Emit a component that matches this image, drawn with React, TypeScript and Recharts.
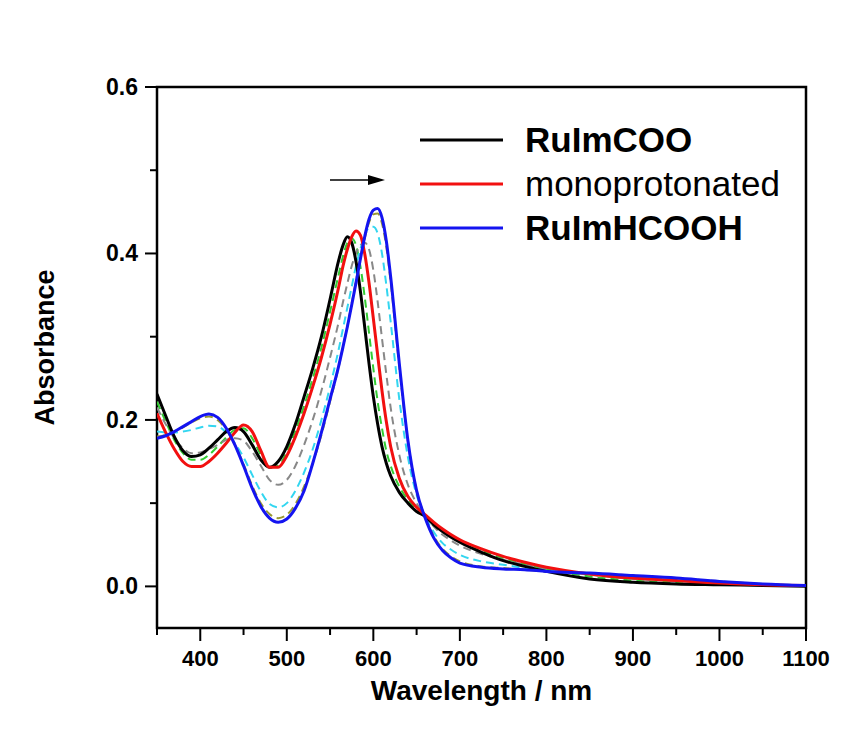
import React from "react"
import { LineChart, Line, XAxis, YAxis, ReferenceArea, Legend } from "recharts"

const FONT = "'Liberation Sans', Arial, sans-serif"

// wavelength grid (nm)
const wavelengths = [
  350, 360, 370, 380, 390, 400, 410, 420, 430, 440, 450, 460, 470, 480, 490, 500, 510, 520, 530, 540,
  550, 560, 565, 570, 575, 580, 585, 590, 595, 600, 605, 610, 615, 620, 630, 640, 650, 660, 670, 680,
  690, 700, 725, 750, 775, 800, 850, 900, 950, 1000, 1050, 1100,
]

// absorbance
const ruImCOO = [
  0.231, 0.205, 0.18, 0.163, 0.156, 0.158, 0.166, 0.176, 0.186, 0.191, 0.186, 0.17, 0.152, 0.143, 0.15, 0.168, 0.195, 0.228, 0.262, 0.3,
  0.345, 0.392, 0.41, 0.42, 0.413, 0.39, 0.355, 0.312, 0.268, 0.228, 0.195, 0.168, 0.148, 0.133, 0.113, 0.1, 0.09, 0.084, 0.074, 0.066,
  0.059, 0.053, 0.041, 0.031, 0.024, 0.018, 0.009, 0.005, 0.003, 0.002, 0.001, 0.0,
]
const step1 = [
  0.222, 0.198, 0.176, 0.16, 0.152, 0.152, 0.158, 0.168, 0.179, 0.188, 0.19, 0.178, 0.158, 0.143, 0.145, 0.162, 0.187, 0.217, 0.25, 0.287,
  0.33, 0.375, 0.397, 0.413, 0.418, 0.41, 0.385, 0.348, 0.305, 0.262, 0.222, 0.19, 0.163, 0.145, 0.12, 0.104, 0.093, 0.085, 0.076, 0.068,
  0.061, 0.055, 0.043, 0.034, 0.027, 0.021, 0.012, 0.007, 0.005, 0.003, 0.002, 0.001,
]
const monoprotonated = [
  0.208, 0.185, 0.165, 0.15, 0.144, 0.144, 0.15, 0.16, 0.172, 0.185, 0.194, 0.186, 0.163, 0.143, 0.143, 0.157, 0.18, 0.208, 0.24, 0.275,
  0.315, 0.36, 0.385, 0.405, 0.42, 0.427, 0.422, 0.4, 0.365, 0.322, 0.278, 0.235, 0.198, 0.168, 0.13, 0.108, 0.095, 0.086, 0.077, 0.069,
  0.062, 0.056, 0.045, 0.036, 0.029, 0.023, 0.015, 0.01, 0.007, 0.004, 0.002, 0.001,
]
const step2 = [
  0.215, 0.195, 0.178, 0.166, 0.16, 0.161, 0.165, 0.17, 0.176, 0.178, 0.175, 0.162, 0.145, 0.128, 0.122, 0.128, 0.145, 0.17, 0.2, 0.235,
  0.275, 0.318, 0.342, 0.364, 0.385, 0.4, 0.41, 0.413, 0.405, 0.38, 0.342, 0.298, 0.255, 0.215, 0.158, 0.122, 0.1, 0.085, 0.072, 0.062,
  0.055, 0.049, 0.039, 0.032, 0.026, 0.021, 0.014, 0.009, 0.006, 0.004, 0.002, 0.001,
]
const step3 = [
  0.186, 0.185, 0.185, 0.186, 0.188, 0.191, 0.193, 0.192, 0.185, 0.172, 0.155, 0.134, 0.114, 0.099, 0.095, 0.1, 0.115, 0.137, 0.165, 0.2,
  0.24, 0.285, 0.31, 0.335, 0.36, 0.385, 0.405, 0.422, 0.431, 0.432, 0.424, 0.4, 0.362, 0.318, 0.225, 0.155, 0.11, 0.084, 0.065, 0.052,
  0.044, 0.038, 0.03, 0.026, 0.022, 0.019, 0.015, 0.011, 0.008, 0.005, 0.003, 0.001,
]
const step4 = [
  0.18, 0.182, 0.186, 0.191, 0.197, 0.202, 0.204, 0.2, 0.188, 0.17, 0.147, 0.121, 0.1, 0.087, 0.082, 0.086, 0.099, 0.12, 0.148, 0.182,
  0.222, 0.264, 0.288, 0.313, 0.34, 0.367, 0.394, 0.418, 0.437, 0.447, 0.448, 0.436, 0.408, 0.366, 0.264, 0.174, 0.115, 0.083, 0.06, 0.045,
  0.036, 0.03, 0.024, 0.022, 0.02, 0.018, 0.016, 0.013, 0.01, 0.006, 0.003, 0.001,
]
const ruImHCOOH = [
  0.178, 0.181, 0.186, 0.192, 0.198, 0.204, 0.207, 0.203, 0.19, 0.17, 0.145, 0.118, 0.096, 0.082, 0.077, 0.081, 0.094, 0.115, 0.148, 0.185,
  0.225, 0.265, 0.288, 0.312, 0.338, 0.365, 0.393, 0.42, 0.441, 0.452, 0.454, 0.443, 0.415, 0.372, 0.268, 0.175, 0.115, 0.082, 0.058, 0.043,
  0.034, 0.028, 0.023, 0.021, 0.02, 0.018, 0.016, 0.013, 0.01, 0.006, 0.003, 0.001,
]

const xTicks = [350, 400, 450, 500, 550, 600, 650, 700, 750, 800, 850, 900, 950, 1000, 1050, 1100]
const yTicks = [0, 0.1, 0.2, 0.3, 0.4, 0.5, 0.6]

const data = wavelengths.map((wl, i) => ({
  wl,
  ruImCOO: ruImCOO[i],
  step1: step1[i],
  monoprotonated: monoprotonated[i],
  step2: step2[i],
  step3: step3[i],
  step4: step4[i],
  ruImHCOOH: ruImHCOOH[i],
}))

const legendOrder = ["RuImCOO", "monoprotonated", "RuImHCOOH"]
const boldNames = ["RuImCOO", "RuImHCOOH"]

function XTick({ x, y, payload }: any) {
  const major = payload.value % 100 === 0
  return (
    <g>
      <line x1={x} x2={x} y1={y} y2={y + (major ? 13 : 7)} stroke="#000" strokeWidth={2} />
      {major && (
        <text x={x} y={y + 38} textAnchor="middle" fontFamily={FONT} fontWeight="bold" fontSize={22} fill="#000">
          {payload.value}
        </text>
      )}
    </g>
  )
}

function YTick({ x, y, payload }: any) {
  const major = Math.round(payload.value * 10) % 2 === 0
  return (
    <g>
      <line x1={x} x2={x - (major ? 12 : 7)} y1={y} y2={y} stroke="#000" strokeWidth={2} />
      {major && (
        <text x={x - 19} y={y + 8} textAnchor="end" fontFamily={FONT} fontWeight="bold" fontSize={23} fill="#000">
          {payload.value.toFixed(1)}
        </text>
      )}
    </g>
  )
}

function LegendBox({ payload }: any) {
  const items = (payload || [])
    .filter((p: any) => legendOrder.includes(p.value))
    .sort((a: any, b: any) => legendOrder.indexOf(a.value) - legendOrder.indexOf(b.value))
  return (
    <svg width={858} height={749} style={{ position: "absolute", left: 0, top: 0, pointerEvents: "none" }}>
      <line x1={330} x2={370} y1={180} y2={180} stroke="#000" strokeWidth={1.5} />
      <polygon points="368,175 385,180 368,185" fill="#000" />
      {items.map((item: any, i: number) => {
        const y = 140 + i * 44
        return (
          <g key={item.value}>
            <line x1={420} x2={503} y1={y} y2={y} stroke={item.color} strokeWidth={3} />
            <text
              x={525}
              y={y + 12}
              fontFamily={FONT}
              fontSize={35}
              fontWeight={boldNames.includes(item.value) ? "bold" : "normal"}
              fill="#000"
            >
              {item.value}
            </text>
          </g>
        )
      })}
    </svg>
  )
}

export default function App() {
  return (
    <div style={{ position: "absolute", left: 0, top: 0, width: 858, height: 749, background: "#fff" }}>
      <LineChart width={858} height={749} data={data} margin={{ top: 87, right: 52, left: 0, bottom: 0 }}>
        <XAxis
          dataKey="wl"
          type="number"
          domain={[350, 1100]}
          ticks={xTicks}
          interval={0}
          allowDataOverflow
          height={121}
          axisLine={false}
          tickLine={false}
          tickSize={0}
          tickMargin={0}
          tick={<XTick />}
          label={{
            content: ({ viewBox }: any) => (
              <text
                x={viewBox.x + viewBox.width / 2}
                y={viewBox.y + 72}
                textAnchor="middle"
                fontFamily={FONT}
                fontWeight="bold"
                fontSize={28}
                fill="#000"
              >
                Wavelength / nm
              </text>
            ),
          }}
        />
        <YAxis
          type="number"
          domain={[-0.05, 0.6]}
          ticks={yTicks}
          interval={0}
          allowDataOverflow
          width={157}
          axisLine={false}
          tickLine={false}
          tickSize={0}
          tickMargin={0}
          tick={<YTick />}
          label={{
            content: ({ viewBox }: any) => {
              const cx = 54
              const cy = viewBox.y + viewBox.height / 2 - 10
              return (
                <text
                  x={cx}
                  y={cy}
                  transform={`rotate(-90 ${cx} ${cy})`}
                  textAnchor="middle"
                  fontFamily={FONT}
                  fontWeight="bold"
                  fontSize={27}
                  fill="#000"
                >
                  Absorbance
                </text>
              )
            },
          }}
        />
        <Line dataKey="step1" type="monotone" stroke="#33cc33" strokeWidth={2} strokeDasharray="8 5" dot={false} legendType="none" isAnimationActive={false} />
        <Line dataKey="step2" type="monotone" stroke="#888888" strokeWidth={2} strokeDasharray="8 5" dot={false} legendType="none" isAnimationActive={false} />
        <Line dataKey="step3" type="monotone" stroke="#33d6f0" strokeWidth={2} strokeDasharray="8 5" dot={false} legendType="none" isAnimationActive={false} />
        <Line dataKey="step4" type="monotone" stroke="#999933" strokeWidth={2} strokeDasharray="8 5" dot={false} legendType="none" isAnimationActive={false} />
        <Line dataKey="ruImCOO" name="RuImCOO" type="monotone" stroke="#000000" strokeWidth={3} dot={false} isAnimationActive={false} />
        <Line dataKey="monoprotonated" name="monoprotonated" type="monotone" stroke="#f21010" strokeWidth={3} dot={false} isAnimationActive={false} />
        <Line dataKey="ruImHCOOH" name="RuImHCOOH" type="monotone" stroke="#1414f0" strokeWidth={3} dot={false} isAnimationActive={false} />
        <ReferenceArea x1={350} x2={1100} y1={-0.05} y2={0.6} fill="none" stroke="#000" strokeWidth={2.5} ifOverflow="visible" />
        <Legend
          layout="horizontal"
          verticalAlign="middle"
          align="center"
          wrapperStyle={{ left: 0, top: 0, width: 858, height: 749, pointerEvents: "none" }}
          content={<LegendBox />}
        />
      </LineChart>
    </div>
  )
}
